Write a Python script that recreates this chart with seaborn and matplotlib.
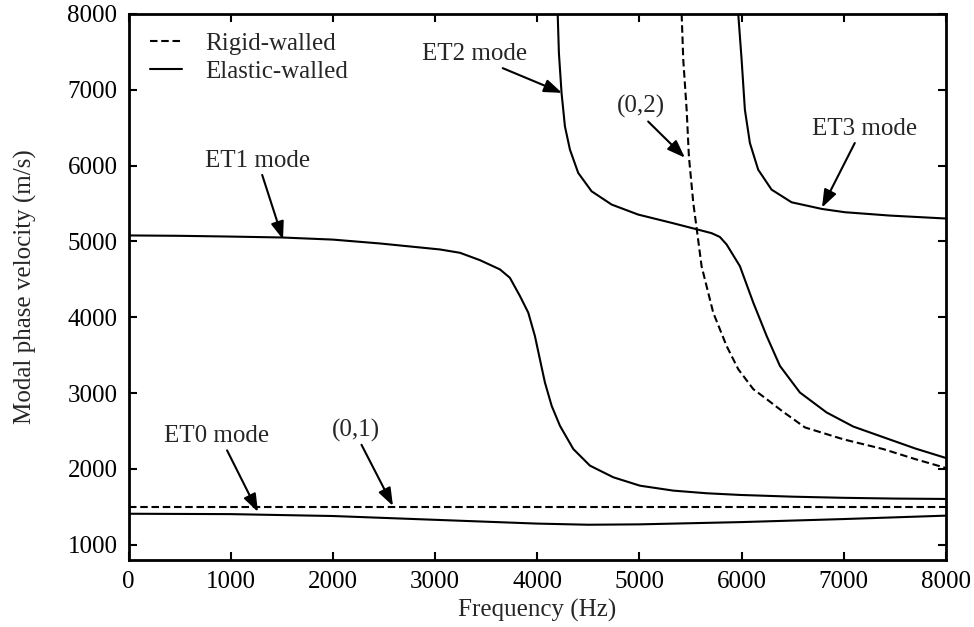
import matplotlib
matplotlib.use("Agg")
import matplotlib.pyplot as plt
import seaborn as sns

# ---- data ----
rigid01_f = [0, 8000]
rigid01_c = [1500, 1500]

rigid02_f = [5413, 5429, 5462, 5484, 5527, 5570, 5608, 5722, 5853, 5967, 6114, 6245, 6400, 6620, 7000, 7385, 7700, 8000]
rigid02_c = [8000, 7395, 6737, 6122, 5509, 5070, 4675, 4062, 3622, 3316, 3053, 2921, 2760, 2548, 2390, 2263, 2130, 2013]

et0_f = [0, 1000, 2000, 3000, 4000, 4500, 5000, 6000, 7000, 8000]
et0_c = [1410, 1405, 1380, 1330, 1280, 1265, 1270, 1300, 1340, 1385]

et1_f = [0, 500, 1000, 1500, 2000, 2461, 3048, 3244, 3439, 3635, 3732, 3831, 3912, 3977, 4026, 4075,
         4141, 4222, 4353, 4516, 4744, 5005, 5331, 5658, 5983, 6500, 7000, 7500, 8000]
et1_c = [5080, 5075, 5065, 5053, 5025, 4974, 4895, 4851, 4754, 4632, 4522, 4280, 4062, 3754, 3447, 3141,
         2833, 2570, 2263, 2044, 1891, 1780, 1715, 1680, 1658, 1635, 1620, 1610, 1605]

et2_f = [4200, 4212, 4238, 4271, 4320, 4401, 4532, 4728, 4988, 5315, 5543, 5706, 5787, 5853, 5983, 6114,
         6245, 6375, 6570, 6831, 7092, 7385, 7700, 8000]
et2_c = [8000, 7483, 6956, 6517, 6211, 5904, 5662, 5487, 5355, 5246, 5167, 5110, 5060, 4961, 4675, 4194,
         3754, 3359, 3009, 2746, 2560, 2420, 2270, 2145]

et3_f = [5967, 6000, 6032, 6081, 6162, 6293, 6489, 6783, 7011, 7450, 8000]
et3_c = [8000, 7395, 6737, 6299, 5947, 5684, 5517, 5430, 5386, 5342, 5303]

x_ticks = [0, 1000, 2000, 3000, 4000, 5000, 6000, 7000, 8000]
y_ticks = [1000, 2000, 3000, 4000, 5000, 6000, 7000, 8000]

# annotations
ann_text = ["ET1 mode", "ET2 mode", "(0,2)", "ET3 mode", "ET0 mode", "(0,1)"]
ann_tip_x = [1512, 4242, 5445, 6786, 1267, 2588]
ann_tip_y = [5026, 6960, 6105, 5447, 1434, 1513]
ann_txt_x = [1267, 3390, 5015, 7206, 866, 2226]
ann_txt_y = [5987, 7395, 6697, 6408, 2355, 2434]
ann_rel_x = [0.53, 0.69, 0.58, 0.42, 0.58, 0.58]

# ---- style ----
sns.set_theme(style="ticks")
plt.rcParams["font.family"] = ["Liberation Serif", "DejaVu Serif"]
plt.rcParams["font.size"] = 18

fig = plt.figure(figsize=(9.74, 6.27), dpi=100)
ax = fig.add_axes([128.5 / 974, 1 - 560 / 627, (946 - 128.5) / 974, (560 - 14) / 627])

lw = 1.5
dash = (3.6, 1.8)

sns.lineplot(x=rigid01_f, y=rigid01_c, ax=ax, color="black", lw=lw, estimator=None)
sns.lineplot(x=rigid02_f, y=rigid02_c, ax=ax, color="black", lw=lw, estimator=None)
for f, c in [(et0_f, et0_c), (et1_f, et1_c), (et2_f, et2_c), (et3_f, et3_c)]:
    sns.lineplot(x=f, y=c, ax=ax, color="black", lw=lw, estimator=None)

lines = ax.get_lines()
lines[0].set_dashes(dash)
lines[1].set_dashes(dash)
lines[0].set_label("Rigid-walled")
lines[2].set_label("Elastic-walled")

ax.set_xlim(0, 8000)
ax.set_ylim(800, 8000)
ax.set_xticks(x_ticks)
ax.set_yticks(y_ticks)
ax.set_xticklabels([str(t) for t in x_ticks])
ax.set_yticklabels([str(t) for t in y_ticks])
ax.tick_params(direction="in", length=6, width=1.5, top=True, right=True,
               labelsize=18, pad=8, colors="black")
for s in ax.spines.values():
    s.set_linewidth(2)
    s.set_color("black")

ax.set_xlabel("Frequency (Hz)", fontsize=18, labelpad=4)
ax.set_ylabel("Modal phase velocity (m/s)", fontsize=18, labelpad=22)

for t, tx, ty, x0, y0, rx in zip(ann_text, ann_tip_x, ann_tip_y, ann_txt_x, ann_txt_y, ann_rel_x):
    ax.annotate(t, xy=(tx, ty), xytext=(x0, y0), ha="center", va="baseline", fontsize=18,
                arrowprops=dict(arrowstyle="-|>,head_length=0.6,head_width=0.22",
                                color="black", lw=1.5, mutation_scale=18,
                                shrinkA=0, shrinkB=0, relpos=(rx, 0.0)))

ax.legend(handles=[lines[0], lines[2]], loc="upper left", frameon=False,
          bbox_to_anchor=(0.026, 0.966), borderaxespad=0, borderpad=0,
          handlelength=1.3, handletextpad=0.9, labelspacing=0.2, fontsize=18)

fig.savefig("out.png", dpi=100)
